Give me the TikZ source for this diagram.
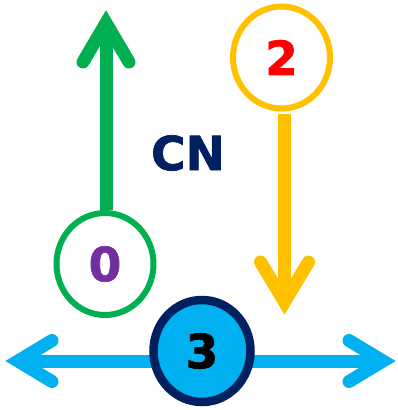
\documentclass[tikz,border=0pt]{standalone}
\usepackage{fontspec}
\setmainfont{DejaVu Sans}
\newfontfamily\heavyfont[FakeBold=1.5]{DejaVu Sans Bold}
\usetikzlibrary{shapes.geometric,calc}
\definecolor{cgreen}{HTML}{00B050}
\definecolor{cyellow}{HTML}{FFC000}
\definecolor{cblue}{HTML}{00B0F0}
\definecolor{cnavy}{HTML}{002060}
\definecolor{cpurple}{HTML}{7030A0}
\definecolor{cred}{HTML}{FF0000}
\tikzset{
  ring/.style={ellipse, draw, inner sep=0pt, minimum width=97pt, minimum height=102pt,
    font=\heavyfont\fontsize{47}{47}\selectfont},
  shaft/.style={line width=13pt},
  barb/.style={line width=13pt, line cap=round, line join=miter},
  label/.style={inner sep=0pt, font=\heavyfont\fontsize{47}{47}\selectfont}
}
\begin{document}
\begin{tikzpicture}[x=1pt,y=-1pt]
\useasboundingbox (0,0) rectangle (397,410);
% tip coordinates (vertices of the barbs)
\coordinate (vG) at (106,23);
\coordinate (vY) at (284.5,302);
\coordinate (vL) at (18,361);
\coordinate (vR) at (383,361);
% nodes
\node[ring, draw=cgreen, line width=6pt, text=cpurple] (n0) at (105,264) {0};
\node[ring, draw=cyellow, line width=6pt, text=cred] (n2) at (281.5,57.5) {2};
% blue arrows (behind node 3)
\draw[shaft, cblue] (vL) -- (vR);
\draw[barb, cblue] ($(vL)+(34,-20.5)$) -- (vL) -- ($(vL)+(34,20.5)$);
\draw[barb, cblue] ($(vR)+(-34,-20.5)$) -- (vR) -- ($(vR)+(-34,20.5)$);
\node[ring, draw=cnavy, fill=cblue, line width=8.5pt, text=black] (n3) at (202,351) {3};
% green arrow
\draw[shaft, cgreen] (n0.north -| vG) -- (vG);
\draw[barb, cgreen] ($(vG)+(-23,39)$) -- (vG) -- ($(vG)+(23,39)$);
% yellow arrow
\draw[shaft, cyellow] ($(n2.south -| vY)+(0,2)$) -- (vY);
\draw[barb, cyellow] ($(vY)+(-24,-40)$) -- (vY) -- ($(vY)+(24,-40)$);
% label
\node[label, text=cnavy] (cn) at (188,153) {CN};
\end{tikzpicture}
\end{document}
